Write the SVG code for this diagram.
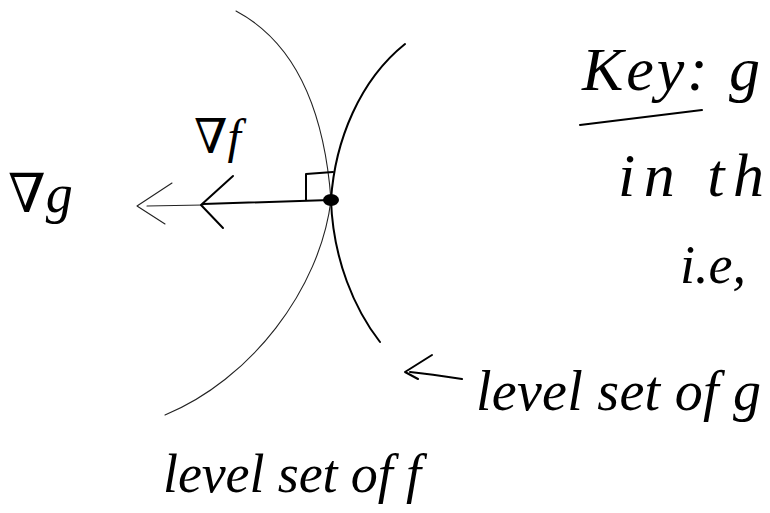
<svg xmlns="http://www.w3.org/2000/svg" width="770" height="513" viewBox="0 0 770 513">
<style>
.t{font-family:"Liberation Serif","DejaVu Serif",serif;font-style:italic;fill:#000}
.thin{fill:none;stroke:#222;stroke-width:1.1;stroke-linecap:round;stroke-linejoin:round}
.thick{fill:none;stroke:#000;stroke-width:2;stroke-linecap:round;stroke-linejoin:round}
</style>
<rect width="770" height="513" fill="#fff"/>
<g id="level-set-f">
<path class="thin" d="M236,11 C300,45 325,120 331,200 C320,290 250,380 165,415"/>
</g>
<g id="level-set-g">
<path class="thick" d="M405,44 C360,80 335,140 331,200 C333,260 355,310 380,342"/>
</g>
<g id="connectors">
<line class="thin" x1="147" y1="206" x2="203" y2="205" stroke-width="1.4"/>
<polyline class="thin" stroke-width="1.6" points="172,183 137,206 165,224"/>
<line class="thick" x1="203" y1="204" x2="330" y2="200" stroke-width="4"/>
<polyline class="thick" stroke-width="4.5" points="233,176 201,205 223,228"/>
<polyline class="thick" stroke-width="1.6" points="306,200 306,174 333,172"/>
<ellipse cx="331" cy="200" rx="8" ry="6" fill="#000"/>
<polyline class="thick" stroke-width="1.6" points="432,355 405,372 418,379"/>
<path class="thick" stroke-width="1.6" d="M410,372 Q430,374 462,379"/>
<line class="thick" stroke-width="1.6" x1="580" y1="125" x2="702" y2="110"/>
</g>
<g id="labels">
<text class="t" x="8" y="212" font-size="54">∇g</text>
<text class="t" x="194" y="153" font-size="48">∇f</text>
<text class="t" x="582" y="90" font-size="62" textLength="178" lengthAdjust="spacing">Key: g</text>
<text class="t" x="618" y="196" font-size="62" textLength="146" lengthAdjust="spacing">in th</text>
<text class="t" x="680" y="283" font-size="54">i.e,</text>
<text class="t" x="476" y="410" font-size="56" textLength="285" lengthAdjust="spacing">level set of g</text>
<text class="t" x="163" y="492" font-size="54" textLength="258" lengthAdjust="spacing">level set of f</text>
</g>
</svg>
